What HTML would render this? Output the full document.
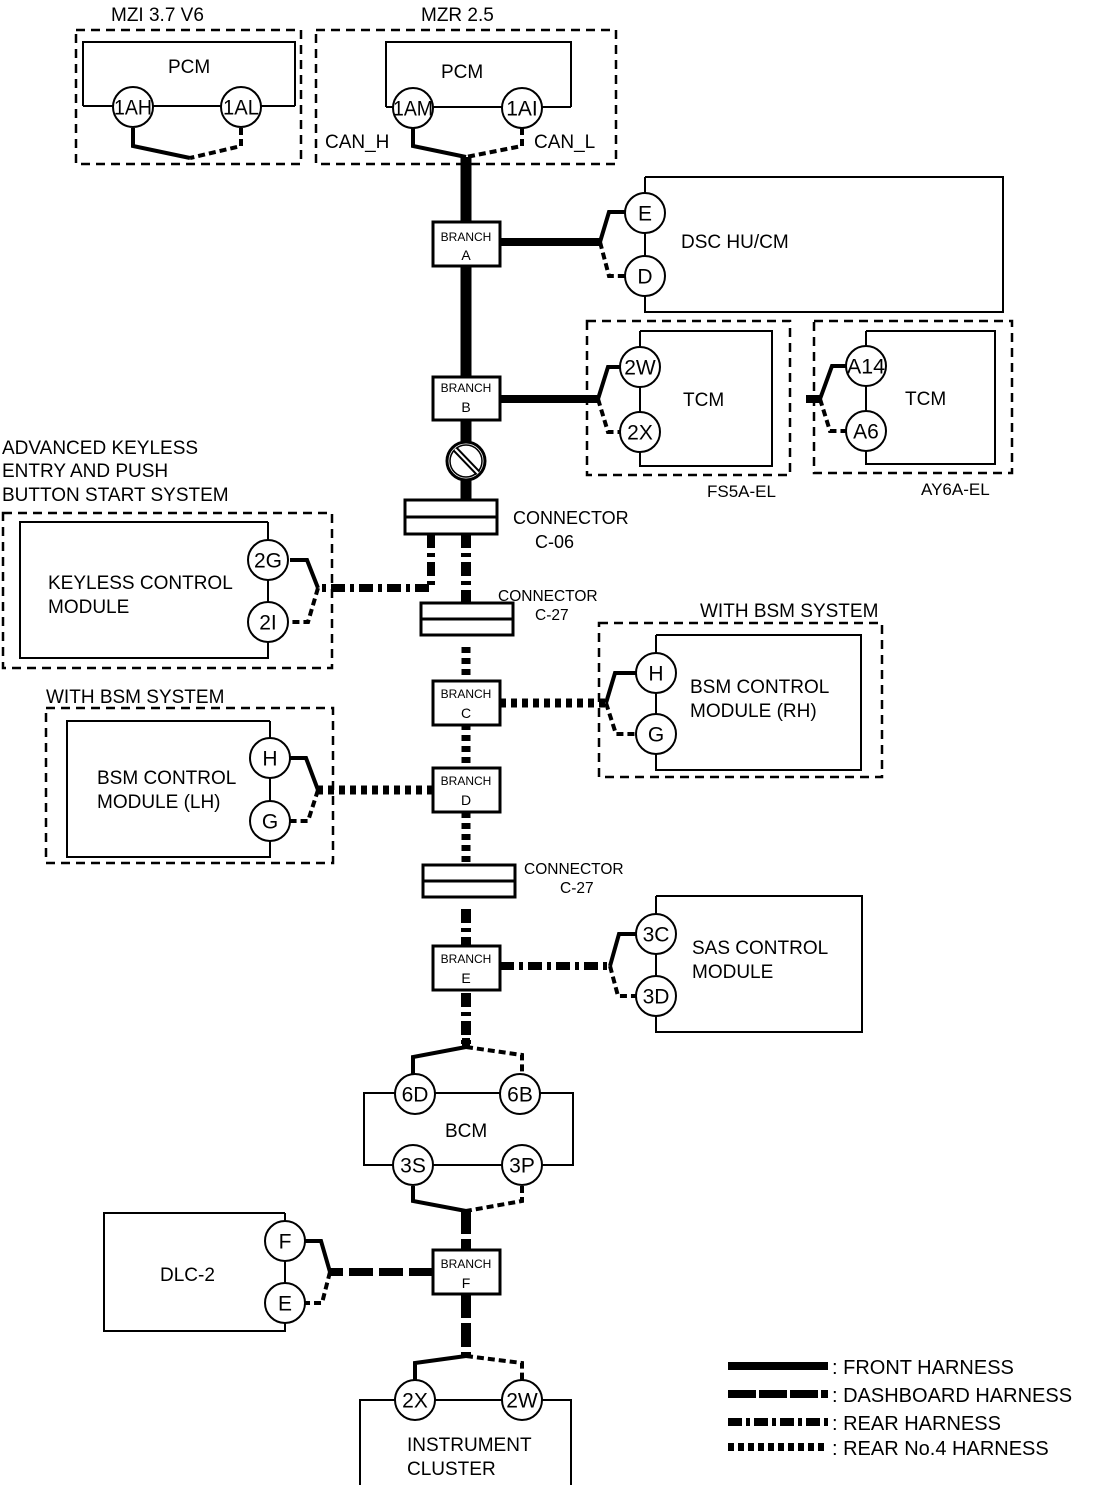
<!DOCTYPE html>
<html><head><meta charset="utf-8"><style>
html,body{margin:0;padding:0;background:#fff}
svg{display:block}
text{font-family:"Liberation Sans",sans-serif;fill:#000}
.t{font-size:19px}
.s{font-size:15.5px}
.b{font-size:12px}
.c{font-size:21px;text-anchor:middle;dominant-baseline:central}
</style></head><body>
<svg width="1114" height="1488" viewBox="0 0 1114 1488" xmlns="http://www.w3.org/2000/svg">
<g fill="none" stroke="#000">
<g stroke-width="2.5" stroke-dasharray="9,6">
<rect x="76" y="30" width="225" height="134"/>
<rect x="316" y="30" width="300" height="134"/>
<rect x="587" y="321" width="203" height="154"/>
<rect x="814" y="321" width="198" height="152"/>
<rect x="3" y="513" width="329" height="155"/>
<rect x="599" y="623" width="283" height="154"/>
<rect x="46" y="708" width="287" height="155"/>
</g>
<g stroke-width="2">
<polyline points="83,106 83,42 295,42 295,106"/>
<line x1="83" y1="106" x2="295" y2="106"/>
<polyline points="386,107 386,42 571,42 571,107"/>
<line x1="386" y1="107" x2="571" y2="107"/>
<polyline points="645,177 1003,177 1003,312 645,312 645,177"/>
<polyline points="640,331 772,331 772,466 640,466 640,331"/>
<polyline points="866,331 995,331 995,464 866,464 866,331"/>
<polyline points="268,522 20,522 20,658 268,658 268,522"/>
<polyline points="656,635 861,635 861,770 656,770 656,635"/>
<polyline points="270,721 67,721 67,857 270,857 270,721"/>
<polyline points="656,896 862,896 862,1032 656,1032 656,896"/>
<rect x="364" y="1093" width="209" height="72"/>
<polyline points="285,1213 104,1213 104,1331 285,1331 285,1213"/>
<polyline points="360,1485 360,1400 571,1400 571,1485"/>
</g>

<line x1="466" y1="157" x2="466" y2="500" stroke-width="11"/>
<polyline points="133,128 133,146 190,158" stroke-width="4"/>
<polyline points="241,128 241,146 190,158" stroke-width="4" stroke-dasharray="7,4"/>
<polyline points="413,128 413,146 466,157" stroke-width="4"/>
<polyline points="522,128 522,146 466,157" stroke-width="4" stroke-dasharray="7,4"/>
<line x1="500" y1="242" x2="600" y2="242" stroke-width="8"/>
<polyline points="600,242 609,212 627,212" stroke-width="4"/>
<polyline points="600,242 609,276 627,276" stroke-width="4" stroke-dasharray="7,4"/>
<line x1="500" y1="399" x2="598" y2="399" stroke-width="8"/>
<polyline points="598,399 608,367 622,367" stroke-width="4"/>
<polyline points="598,399 608,432 622,432" stroke-width="4" stroke-dasharray="7,4"/>
<line x1="806" y1="399" x2="822" y2="399" stroke-width="8"/>
<polyline points="820,399 832,366 848,366" stroke-width="4"/>
<polyline points="820,399 830,431 848,431" stroke-width="4" stroke-dasharray="7,4"/>

<polyline points="431,534 431,588 318,588" stroke-width="8" stroke-dasharray="14,5,4,5"/>
<polyline points="318,588 307,560 290,560" stroke-width="4"/>
<polyline points="318,588 308,622 290,622" stroke-width="4" stroke-dasharray="7,4"/>
<line x1="466" y1="534" x2="466" y2="603" stroke-width="10" stroke-dasharray="14,5,4,5"/>
<line x1="466" y1="647" x2="466" y2="865" stroke-width="9" stroke-dasharray="6,5"/>
<line x1="500" y1="703" x2="606" y2="703" stroke-width="9" stroke-dasharray="6,5"/>
<polyline points="606,703 615,673 636,673" stroke-width="4"/>
<polyline points="606,703 616,734 636,734" stroke-width="4" stroke-dasharray="7,4"/>
<line x1="433" y1="790" x2="318" y2="790" stroke-width="9" stroke-dasharray="6,5"/>
<polyline points="318,790 306,758 290,758" stroke-width="4"/>
<polyline points="318,790 308,821 290,821" stroke-width="4" stroke-dasharray="7,4"/>
<line x1="466" y1="909" x2="466" y2="1047" stroke-width="10" stroke-dasharray="14,5,4,5"/>
<line x1="500" y1="966" x2="610" y2="966" stroke-width="8" stroke-dasharray="14,5,4,5"/>
<polyline points="610,966 619,934 636,934" stroke-width="4"/>
<polyline points="610,966 618,996 636,996" stroke-width="4" stroke-dasharray="7,4"/>
<polyline points="466,1047 413,1057 413,1074" stroke-width="4"/>
<polyline points="466,1047 522,1055 522,1074" stroke-width="4" stroke-dasharray="7,4"/>
<line x1="466" y1="1038" x2="466" y2="1049" stroke-width="8"/>
<polyline points="413,1186 413,1201 466,1211" stroke-width="4"/>
<polyline points="522,1186 522,1201 466,1211" stroke-width="4" stroke-dasharray="7,4"/>
<line x1="466" y1="1210" x2="466" y2="1250" stroke-width="10" stroke-dasharray="24,5"/>
<line x1="433" y1="1272" x2="330" y2="1272" stroke-width="8" stroke-dasharray="24,6"/>
<polyline points="330,1272 321,1241 305,1241" stroke-width="4"/>
<polyline points="330,1272 322,1303 305,1303" stroke-width="4" stroke-dasharray="7,4"/>
<line x1="466" y1="1294" x2="466" y2="1358" stroke-width="10" stroke-dasharray="24,5"/>
<polyline points="466,1356 415,1363 415,1380" stroke-width="4"/>
<polyline points="466,1356 522,1363 522,1380" stroke-width="4" stroke-dasharray="7,4"/>

<g stroke-width="3" fill="#fff">
<rect x="405" y="500" width="92" height="34"/>
<line x1="405" y1="517" x2="497" y2="517"/>
<rect x="421" y="603" width="92" height="32"/>
<line x1="421" y1="619" x2="513" y2="619"/>
<rect x="423" y="865" width="92" height="32"/>
<line x1="423" y1="881" x2="515" y2="881"/>
<rect x="433" y="222" width="67" height="44"/>
<rect x="433" y="377" width="67" height="43"/>
<rect x="433" y="681" width="67" height="44"/>
<rect x="433" y="768" width="67" height="44"/>
<rect x="433" y="946" width="67" height="44"/>
<rect x="433" y="1250" width="67" height="44"/>
</g>
<circle cx="466" cy="461" r="19" fill="#fff" stroke-width="3"/>
<circle cx="466" cy="461" r="16" stroke-width="1.5"/>
<line x1="455" y1="449" x2="478" y2="473" stroke-width="6"/>
<line x1="455" y1="449" x2="478" y2="473" stroke="#fff" stroke-width="2"/>

<g stroke-width="2" fill="#fff">
<circle cx="133" cy="107" r="20"/><circle cx="241" cy="107" r="20"/>
<circle cx="413" cy="108" r="20"/><circle cx="522" cy="108" r="20"/>
<circle cx="645" cy="213" r="20"/><circle cx="645" cy="276" r="20"/>
<circle cx="640" cy="367" r="20"/><circle cx="640" cy="432" r="20"/>
<circle cx="866" cy="366" r="20"/><circle cx="866" cy="431" r="20"/>
<circle cx="268" cy="560" r="20"/><circle cx="268" cy="622" r="20"/>
<circle cx="656" cy="673" r="20"/><circle cx="656" cy="734" r="20"/>
<circle cx="270" cy="758" r="20"/><circle cx="270" cy="821" r="20"/>
<circle cx="656" cy="934" r="20"/><circle cx="656" cy="996" r="20"/>
<circle cx="415" cy="1094" r="20"/><circle cx="520" cy="1094" r="20"/>
<circle cx="413" cy="1165" r="20"/><circle cx="522" cy="1165" r="20"/>
<circle cx="285" cy="1241" r="20"/><circle cx="285" cy="1303" r="20"/>
<circle cx="415" cy="1400" r="20"/><circle cx="522" cy="1400" r="20"/>
</g>

<line x1="728" y1="1366" x2="828" y2="1366" stroke-width="8"/>
<line x1="728" y1="1394" x2="828" y2="1394" stroke-width="8" stroke-dasharray="28,3"/>
<line x1="728" y1="1422" x2="828" y2="1422" stroke-width="8" stroke-dasharray="14,4,4,4"/>
<line x1="728" y1="1447" x2="828" y2="1447" stroke-width="8" stroke-dasharray="6,4"/>
</g>

<g>
<text class="c" x="133" y="108" textLength="38" lengthAdjust="spacingAndGlyphs">1AH</text><text class="c" x="241" y="108" textLength="36" lengthAdjust="spacingAndGlyphs">1AL</text>
<text class="c" x="413" y="109" textLength="40" lengthAdjust="spacingAndGlyphs">1AM</text><text class="c" x="522" y="109">1AI</text>
<text class="c" x="645" y="214">E</text><text class="c" x="645" y="277">D</text>
<text class="c" x="640" y="368">2W</text><text class="c" x="640" y="433">2X</text>
<text class="c" x="866" y="367" textLength="38" lengthAdjust="spacingAndGlyphs">A14</text><text class="c" x="866" y="432">A6</text>
<text class="c" x="268" y="561">2G</text><text class="c" x="268" y="623">2I</text>
<text class="c" x="656" y="674">H</text><text class="c" x="656" y="735">G</text>
<text class="c" x="270" y="759">H</text><text class="c" x="270" y="822">G</text>
<text class="c" x="656" y="935">3C</text><text class="c" x="656" y="997">3D</text>
<text class="c" x="415" y="1095">6D</text><text class="c" x="520" y="1095">6B</text>
<text class="c" x="413" y="1166">3S</text><text class="c" x="522" y="1166">3P</text>
<text class="c" x="285" y="1242">F</text><text class="c" x="285" y="1304">E</text>
<text class="c" x="415" y="1401">2X</text><text class="c" x="522" y="1401">2W</text>
</g>

<g class="b" text-anchor="middle">
<text x="466" y="241">BRANCH</text><text x="466" y="260" font-size="14">A</text>
<text x="466" y="392">BRANCH</text><text x="466" y="412" font-size="14">B</text>
<text x="466" y="698">BRANCH</text><text x="466" y="718" font-size="14">C</text>
<text x="466" y="785">BRANCH</text><text x="466" y="805" font-size="14">D</text>
<text x="466" y="963">BRANCH</text><text x="466" y="983" font-size="14">E</text>
<text x="466" y="1268">BRANCH</text><text x="466" y="1288" font-size="14">F</text>
</g>

<g class="t">
<text x="111" y="21">MZI 3.7 V6</text>
<text x="421" y="21">MZR 2.5</text>
<text x="168" y="73">PCM</text>
<text x="441" y="78">PCM</text>
<text x="325" y="148">CAN_H</text>
<text x="534" y="148">CAN_L</text>
<text x="681" y="248">DSC HU/CM</text>
<text x="683" y="406">TCM</text>
<text x="905" y="405">TCM</text>
<text x="707" y="497" font-size="17">FS5A-EL</text>
<text x="921" y="495" font-size="17">AY6A-EL</text>
<text x="2" y="454">ADVANCED KEYLESS</text>
<text x="2" y="477">ENTRY AND PUSH</text>
<text x="2" y="501">BUTTON START SYSTEM</text>
<text x="513" y="524" font-size="18">CONNECTOR</text>
<text x="535" y="548" font-size="18">C-06</text>
<text x="48" y="589">KEYLESS CONTROL</text>
<text x="48" y="613">MODULE</text>
<text class="s" x="498" y="601">CONNECTOR</text>
<text class="s" x="535" y="620">C-27</text>
<text x="700" y="617">WITH BSM SYSTEM</text>
<text x="690" y="693">BSM CONTROL</text>
<text x="690" y="717">MODULE (RH)</text>
<text x="46" y="703">WITH BSM SYSTEM</text>
<text x="97" y="784">BSM CONTROL</text>
<text x="97" y="808">MODULE (LH)</text>
<text class="s" x="524" y="874">CONNECTOR</text>
<text class="s" x="560" y="893">C-27</text>
<text x="692" y="954">SAS CONTROL</text>
<text x="692" y="978">MODULE</text>
<text x="445" y="1137">BCM</text>
<text x="160" y="1281">DLC-2</text>
<text x="407" y="1451">INSTRUMENT</text>
<text x="407" y="1475">CLUSTER</text>
<text x="832" y="1374" font-size="20">: FRONT HARNESS</text>
<text x="832" y="1402" font-size="20">: DASHBOARD HARNESS</text>
<text x="832" y="1430" font-size="20">: REAR HARNESS</text>
<text x="832" y="1455" font-size="20">: REAR No.4 HARNESS</text>
</g>
</svg>
</body></html>
